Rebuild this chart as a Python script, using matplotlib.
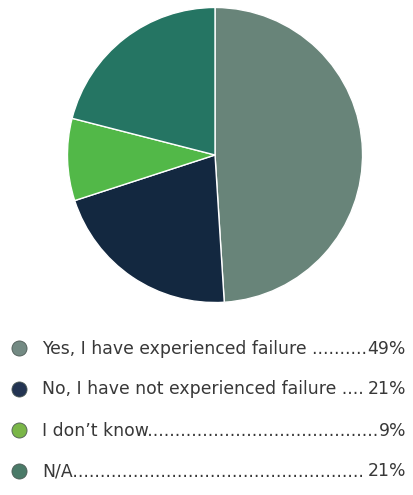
import matplotlib
matplotlib.use('Agg')
import matplotlib.pyplot as plt

labels = ['Yes, I have experienced failure', 'No, I have not experienced failure',
          "I don\u2019t know", 'N/A']
values = [49, 21, 9, 21]
pie_colors = ['#688479', '#132840', '#52b848', '#257563']
dot_colors = ['#738a83', '#233452', '#7ab648', '#4a7a68']

W, H = 414, 495
fig = plt.figure(figsize=(W / 100, H / 100), dpi=100)
plt.rcParams['font.family'] = ['DejaVu Sans']

# pie
ax = fig.add_axes([66 / W, 191 / H, 298 / W, 298 / H])
ax.pie(values, colors=pie_colors, startangle=90, counterclock=False,
       wedgeprops=dict(edgecolor='white', linewidth=1.0))
ax.set_xlim(-1.01, 1.01)
ax.set_ylim(-1.01, 1.01)
ax.set_aspect('equal')
ax.axis('off')

# legend with dot leaders
lax = fig.add_axes([0, 0, 1, 1])
lax.set_xlim(0, W)
lax.set_ylim(H, 0)
lax.axis('off')
renderer = fig.canvas.get_renderer()

# fit font size so the first label is about 263 px wide, like the reference
probe = lax.text(0, 0, labels[0], fontsize=10)
fs = 10 * 263 / probe.get_window_extent(renderer).width
probe.remove()

ys = [348, 389, 430, 471]
x_text, x_right = 42, 406
for lab, v, c, y in zip(labels, values, dot_colors, ys):
    lax.scatter([19], [y], s=118, color=c, edgecolor='#4d5a55', linewidth=0.6, zorder=3)
    pct = lax.text(x_right, y + 5.5, f'{v}%', fontsize=fs, color='#383838',
                   ha='right', va='baseline')
    room = x_right - x_text - pct.get_window_extent(renderer).width
    s = lab + ' ' if lab.endswith('failure') else lab
    t = lax.text(x_text, y + 5.5, s, fontsize=fs, color='#383838', ha='left', va='baseline')
    # add leader dots while one more still fits
    while True:
        t.set_text(s + '.')
        if t.get_window_extent(renderer).width > room:
            t.set_text(s)
            break
        s += '.'

fig.savefig('out.png', dpi=100)
